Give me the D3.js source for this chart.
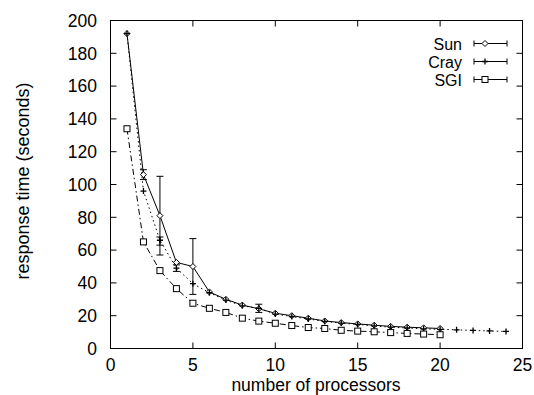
<!DOCTYPE html>
<html><head><meta charset="utf-8">
<script src="https://cdn.jsdelivr.net/npm/d3@7"></script>
<style>body{margin:0;background:#fff}svg{display:block}</style>
</head><body>
<script>
const sunX = d3.range(1, 21);
const sunY = [192, 106, 81, 52.5, 50, 34.5, 30, 26.5, 24.2, 21.5, 20, 18.5, 16.8, 15.8, 15, 14.2, 13.5, 13, 12.6, 12.2];
const crayX = d3.range(1, 25);
const crayY = [192, 96, 66, 49, 39.5, 34, 29.5, 26, 24.5, 21, 19.5, 18, 16.5, 15.5, 14.7, 13.8, 13, 12.5, 12, 11.7, 11.4, 11, 10.7, 10.4];
const sgiX = d3.range(1, 21);
const sgiY = [134, 65, 47.5, 36.5, 27.6, 24.5, 22, 18.5, 16.7, 15.4, 14, 12.8, 12.2, 11.1, 10.6, 10.2, 9.7, 9.2, 8.8, 8.4];
const sunErrX = [2, 3, 5, 9];
const sunErrLo = [103, 57, 33, 22];
const sunErrHi = [109, 105, 67, 27];
const crayErrX = [3, 4];
const crayErrLo = [63, 47];
const crayErrHi = [68, 51];
const xTicks = [0, 5, 10, 15, 20, 25];
const yTicks = [0, 20, 40, 60, 80, 100, 120, 140, 160, 180, 200];
const legendNames = ["Sun", "Cray", "SGI"];

const W = 534, H = 395;
const L = 110.5, R = 522.5, T = 20.5, B = 348.5;
const svg = d3.select("body").append("svg").attr("width", W).attr("height", H)
  .style("font-family", "'Liberation Sans', Arial, sans-serif");
const x = d3.scaleLinear().domain([0, 25]).range([L, R]);
const y = d3.scaleLinear().domain([0, 200]).range([B, T]);

// ticks (inward, mirrored)
const tl = 6;
const g = svg.append("g").attr("stroke", "#000").attr("stroke-width", 1);
xTicks.forEach(t => {
  if (t === 0 || t === 25) return;
  g.append("line").attr("x1", x(t)).attr("x2", x(t)).attr("y1", B).attr("y2", B - tl);
  g.append("line").attr("x1", x(t)).attr("x2", x(t)).attr("y1", T).attr("y2", T + tl);
});
yTicks.forEach(t => {
  if (t === 0 || t === 200) return;
  g.append("line").attr("x1", L).attr("x2", L + tl).attr("y1", y(t)).attr("y2", y(t));
  g.append("line").attr("x1", R).attr("x2", R - tl).attr("y1", y(t)).attr("y2", y(t));
});
svg.append("rect").attr("x", L).attr("y", T).attr("width", R - L).attr("height", B - T)
  .attr("fill", "none").attr("stroke", "#000").attr("stroke-width", 1);

// tick labels
svg.append("g").selectAll("text").data(xTicks).join("text")
  .attr("x", d => x(d)).attr("y", 370.5).attr("text-anchor", "middle")
  .attr("font-size", 17.5).text(d => d);
svg.append("g").selectAll("text").data(yTicks).join("text")
  .attr("x", 97).attr("y", d => y(d) + 6.3).attr("text-anchor", "end")
  .attr("font-size", 17.5).text(d => d);

svg.append("text").attr("x", 316).attr("y", 391).attr("text-anchor", "middle")
  .attr("font-size", 17.5).text("number of processors");
svg.append("text").attr("transform", "translate(29,181) rotate(-90)")
  .attr("text-anchor", "middle").attr("font-size", 18).text("response time (seconds)");

const line = d3.line().x(d => x(d[0])).y(d => y(d[1]));
const zip = (a, b) => a.map((v, i) => [v, b[i]]);

function errbars(xs, lo, hi) {
  const eg = svg.append("g").attr("stroke", "#000").attr("stroke-width", 1);
  xs.forEach((xv, i) => {
    const cx = x(xv);
    eg.append("line").attr("x1", cx).attr("x2", cx).attr("y1", y(lo[i])).attr("y2", y(hi[i]));
    eg.append("line").attr("x1", cx - 3.5).attr("x2", cx + 3.5).attr("y1", y(lo[i])).attr("y2", y(lo[i]));
    eg.append("line").attr("x1", cx - 3.5).attr("x2", cx + 3.5).attr("y1", y(hi[i])).attr("y2", y(hi[i]));
  });
}

const dashes = [null, "1.5,3", "6,3,1.5,3"];
const series = [zip(sunX, sunY), zip(crayX, crayY), zip(sgiX, sgiY)];
series.forEach((s, i) => {
  svg.append("path").attr("d", line(s)).attr("fill", "none").attr("stroke", "#000")
    .attr("stroke-width", 1).attr("stroke-dasharray", dashes[i]);
});
errbars(sunErrX, sunErrLo, sunErrHi);
errbars(crayErrX, crayErrLo, crayErrHi);

function marker(sel, type, cx, cy) {
  if (type === 0) {
    sel.append("path").attr("d", `M${cx},${cy-3}L${cx+3},${cy}L${cx},${cy+3}L${cx-3},${cy}Z`)
      .attr("fill", "#fff").attr("stroke", "#000").attr("stroke-width", 1);
  } else if (type === 1) {
    sel.append("path").attr("d", `M${cx-3},${cy}H${cx+3}M${cx},${cy-3}V${cy+3}`)
      .attr("fill", "none").attr("stroke", "#000").attr("stroke-width", 1.3);
  } else {
    sel.append("rect").attr("x", cx - 3).attr("y", cy - 3).attr("width", 6).attr("height", 6)
      .attr("fill", "#fff").attr("stroke", "#000").attr("stroke-width", 1);
  }
}
const mg = svg.append("g");
series.forEach((s, i) => s.forEach(d => marker(mg, i, x(d[0]), y(d[1]))));

// legend
const legY = [43.5, 61.5, 79.5];
legendNames.forEach((n, i) => {
  svg.append("text").attr("x", 462).attr("y", legY[i] + 6).attr("text-anchor", "end")
    .attr("font-size", 16).text(n);
  const lg = svg.append("g").attr("stroke", "#000").attr("stroke-width", 1);
  lg.append("line").attr("x1", 474).attr("x2", 507).attr("y1", legY[i]).attr("y2", legY[i]);
  lg.append("line").attr("x1", 474).attr("x2", 474).attr("y1", legY[i] - 3).attr("y2", legY[i] + 3);
  lg.append("line").attr("x1", 507).attr("x2", 507).attr("y1", legY[i] - 3).attr("y2", legY[i] + 3);
  marker(svg, i, 485, legY[i]);
});
</script>
</body></html>
